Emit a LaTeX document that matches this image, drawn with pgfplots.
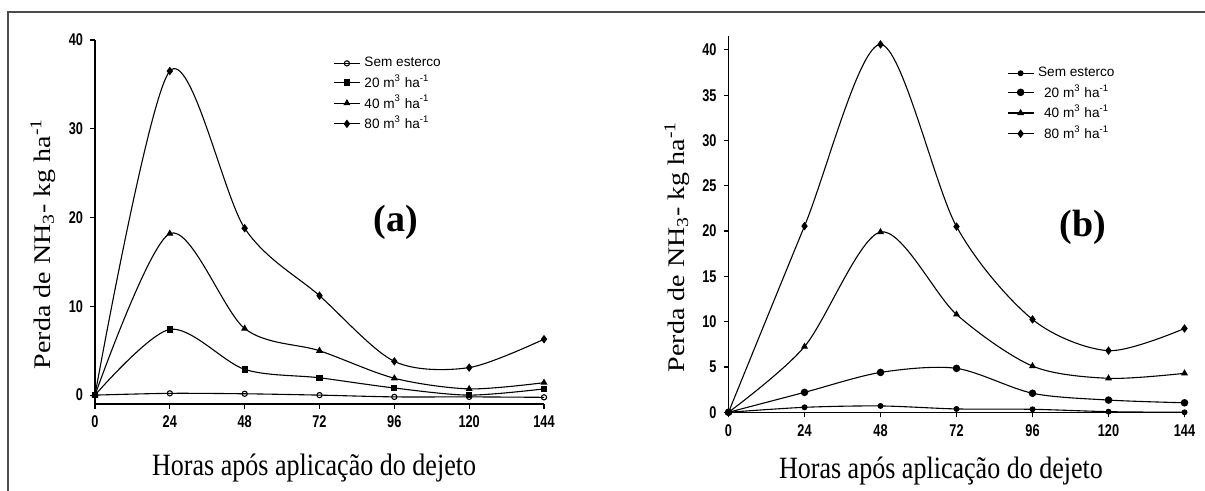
\documentclass[border=0pt]{standalone}
\usepackage{fontspec}
\setmainfont{Liberation Serif}
\setsansfont{Liberation Sans}
\usepackage{pgfplots}
\pgfplotsset{compat=1.18}

\pgfplotsset{
  painel/.style={
    scale only axis, axis lines=left, axis line style={-, line width=0.6pt},
    tick align=outside, major tick length=2.5pt, tick style={line width=0.6pt, black},
    xmin=0, xmax=144, xtick={0,24,...,144}, clip=false,
    ticklabel style={font=\sffamily\bfseries\fontsize{8.5}{9}\selectfont},
    xticklabel={\scalebox{0.75}[1]{\pgfmathprintnumber[assume math mode=true]{\tick}}},
    yticklabel={\scalebox{0.75}[1]{\pgfmathprintnumber[assume math mode=true]{\tick}}},
    xlabel={\scalebox{0.84}[1]{Horas após aplicação do dejeto}},
    ylabel={\scalebox{1}[0.85]{Perda de NH\textsubscript{3}- kg ha\textsuperscript{-1}}},
    xlabel style={font=\fontsize{15.5}{17}\selectfont, anchor=center},
    ylabel style={font=\fontsize{14}{15}\selectfont, anchor=center},
    every axis plot/.append style={black, line width=0.55pt, smooth},
    legend style={draw=none, fill=none, font=\sffamily\fontsize{6.8}{7.5}\selectfont,
      row sep=-1.5pt, cells={anchor=west}, inner sep=0pt},
    legend image code/.code={\draw[mark repeat=2,mark phase=2]
      plot coordinates {(0pt,0pt)(6.5pt,0pt)(13pt,0pt)};},
  }
}

\begin{document}
\begin{tikzpicture}
\path[use as bounding box] (0,0) rectangle (602.5pt,245.5pt);
\draw[black!70, line width=1pt] (4pt,0) -- (4pt,239.5pt) -- (602.5pt,239.5pt);

% (a)
\begin{axis}[painel, at={(47.5pt,43.5pt)}, anchor=south west,
  width=224.5pt, height=182pt, ymin=-1, ymax=40, ytick={0,10,...,40},
  xlabel style={at={(axis description cs:0.488,-0.176)}},
  ylabel style={at={(axis description cs:-0.116,0.44)}},
  legend style={at={(axis description cs:0.53,0.965)}, anchor=north west}]
\addplot[mark=o, mark size=1.3pt, mark options={fill=white}] coordinates
  {(0,0)(24,0.2)(48,0.15)(72,0)(96,-0.2)(120,-0.2)(144,-0.25)};
\addlegendentry{Sem esterco}
\addplot[mark=square*, mark size=1.3pt] coordinates
  {(0,0)(24,7.4)(48,2.9)(72,1.95)(96,0.8)(120,0)(144,0.7)};
\addlegendentry{20 m\textsuperscript{3} ha\textsuperscript{-1}}
\addplot[mark=triangle*, mark size=1.5pt] coordinates
  {(0,0)(24,18.2)(48,7.5)(72,5.0)(96,1.9)(120,0.7)(144,1.4)};
\addlegendentry{40 m\textsuperscript{3} ha\textsuperscript{-1}}
\addplot[mark=diamond*, mark size=1.7pt] coordinates
  {(0,0)(24,36.5)(48,18.8)(72,11.2)(96,3.8)(120,3.1)(144,6.3)};
\addlegendentry{80 m\textsuperscript{3} ha\textsuperscript{-1}}
\node[font=\bfseries\fontsize{19}{20}\selectfont] at (axis cs:96.5,19.5) {(a)};
\end{axis}

% (b)
\begin{axis}[painel, at={(364.25pt,39.35pt)}, anchor=south west,
  width=228pt, height=188pt, ymin=0, ymax=41.5, ytick={0,5,...,40},
  xlabel style={at={(axis description cs:0.466,-0.156)}},
  ylabel style={at={(axis description cs:-0.113,0.44)}},
  legend style={at={(axis description cs:0.61,0.93)}, anchor=north west}]
\addplot[mark=*, mark size=1.2pt] coordinates
  {(0,0)(24,0.55)(48,0.7)(72,0.37)(96,0.33)(120,0.07)(144,0)};
\addlegendentry{Sem esterco}
\addplot[mark=*, mark size=1.6pt] coordinates
  {(0,0)(24,2.2)(48,4.4)(72,4.85)(96,2.1)(120,1.35)(144,1.05)};
\addlegendentry{\hspace{3pt}20 m\textsuperscript{3} ha\textsuperscript{-1}}
\addplot[mark=triangle*, mark size=1.5pt] coordinates
  {(0,0)(24,7.25)(48,19.9)(72,10.8)(96,5.1)(120,3.75)(144,4.3)};
\addlegendentry{\hspace{3pt}40 m\textsuperscript{3} ha\textsuperscript{-1}}
\addplot[mark=diamond*, mark size=1.7pt] coordinates
  {(0,0)(24,20.55)(48,40.6)(72,20.5)(96,10.25)(120,6.8)(144,9.25)};
\addlegendentry{\hspace{3pt}80 m\textsuperscript{3} ha\textsuperscript{-1}}
\node[font=\bfseries\fontsize{19}{20}\selectfont] at (axis cs:112,20.45) {(b)};
\end{axis}
\end{tikzpicture}
\end{document}
